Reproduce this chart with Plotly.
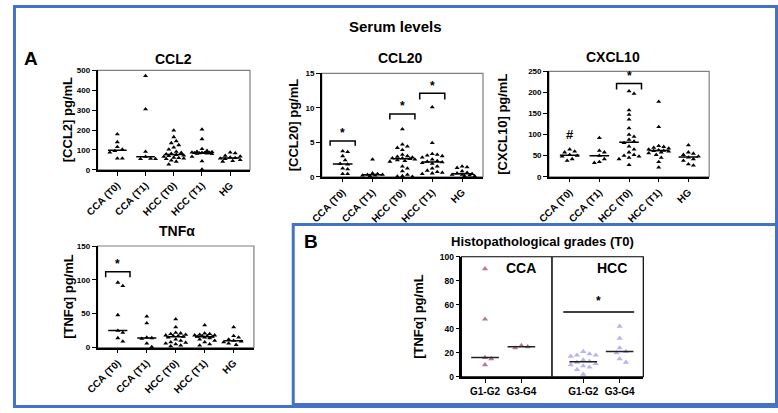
import numpy as np
import plotly.graph_objects as go

W, H = 778, 413

# ---------------- data ----------------
groups = ["CCA (T0)", "CCA (T1)", "HCC (T0)", "HCC (T1)", "HG"]

ccl2_cca_t0 = [180, 140, 115, 103, 95, 88, 58, 58]
ccl2_cca_t1 = [472, 305, 92, 66, 57, 55, 55]
ccl2_hcc_t0 = [198, 165, 145, 135, 125, 113, 103, 92, 86, 82, 79, 76, 73, 70, 66, 62, 60, 58, 55, 48, 42, 28]
ccl2_hcc_t1 = [203, 155, 105, 96, 92, 90, 88, 87, 86, 85, 85, 84, 83, 82, 80, 66, 44, 2]
ccl2_hg = [88, 84, 72, 68, 63, 60, 58, 55, 50, 45, 42]

ccl20_cca_t0 = [3.7, 3.6, 3.0, 2.4, 1.9, 1.8, 1.2, 1.1, 0.4, 0.4]
ccl20_cca_t1 = [2.5, 0.5, 0.4, 0.3, 0.3, 0.2, 0.2, 0.1]
ccl20_hcc_t0 = [6.9, 4.7, 4.4, 4.2, 3.9, 3.2, 3.0, 2.9, 2.8, 2.7, 2.7, 2.6, 2.5, 2.4, 2.3, 2.2, 1.5, 1.2, 0.8, 0.3, 0.1, 0.05, 0.02]
ccl20_hcc_t1 = [10.1, 4.9, 3.3, 3.2, 3.1, 3.0, 2.8, 2.5, 2.3, 2.2, 2.1, 2.0, 1.9, 1.5, 1.2, 0.9, 0.7, 0.6, 0.5, 0.4]
ccl20_hg = [1.5, 1.4, 1.3, 0.8, 0.6, 0.5, 0.4, 0.3, 0.3, 0.2, 0.1, 0.1]

cxcl10_cca_t0 = [65, 60, 58, 52, 50, 48, 42, 38]
cxcl10_cca_t1 = [92, 62, 58, 50, 42, 35, 33]
cxcl10_hcc_t0 = [203, 197, 158, 147, 136, 115, 100, 95, 88, 84, 80, 72, 65, 58, 52, 50, 48, 45, 42, 28]
cxcl10_hcc_t1 = [178, 118, 73, 71, 69, 67, 65, 63, 62, 61, 60, 58, 56, 52, 45, 35, 22]
cxcl10_hg = [75, 58, 55, 52, 48, 46, 42, 38, 30, 27]

tnf_cca_t0 = [96, 91, 48, 25, 22, 14, 9]
tnf_cca_t1 = [46, 36, 15, 14, 13, 6, 1]
tnf_hcc_t0 = [42, 30, 22, 21, 20, 19, 18, 17, 17, 16, 15, 12, 10, 8, 7, 6, 5, 3, 2]
tnf_hcc_t1 = [33, 21, 20, 19, 18, 18, 17, 17, 16, 16, 15, 14, 12, 10, 8, 5, 3]
tnf_hg = [30, 17, 15, 12, 10, 9, 8, 6, 4]

grade_labels = ["G1-G2", "G3-G4"]
grade_cca_g12 = [90, 48, 16, 15, 10]
grade_cca_g34 = [26, 25, 24]
grade_hcc_g12 = [21, 19, 18, 18, 17, 14, 13, 12, 11, 10, 9, 8, 6, 2]
grade_hcc_g34 = [42, 32, 24, 21, 20, 15, 12]

# significance marks: (group index, bracket top, leg bottom, star height)
ccl20_sig = [(0, 5.2, 4.5, 6.4), (2, 9.1, 8.3, 10.3), (3, 12.1, 11.2, 13.2)]
cxcl10_sig = [(2, 221, 207, 239)]
tnf_sig = [(0, 112, 104, 123)]

# ---------------- helpers ----------------
BLUE = "#4472C4"
FONT = "Liberation Sans, Arial, sans-serif"


def px(xp):
    return xp / W


def py(yp):
    return 1 - yp / H


def swarm(vals, ppx, ppy, d=4.2, lim=0.42):
    vals = np.asarray(vals, float)
    order = np.argsort(-vals)
    placed = []
    off = np.zeros(len(vals))
    step = d * 0.55
    cand = [0.0]
    for k in range(1, 30):
        cand += [k * step, -k * step]
    cand = [c for c in cand if abs(c) / ppx <= lim]
    for i in order:
        yv = vals[i] * ppy
        best, bestd = cand[0], -1
        for c in cand:
            md = min([np.hypot(c - a, yv - b) for a, b in placed], default=1e9)
            if md >= d:
                best = c
                break
            if md > bestd:
                best, bestd = c, md
        placed.append((best, yv))
        off[i] = best / ppx
    return off


fig = go.Figure()
annotations = []
shapes = []
layout_axes = {}


def add_axes(n, box, xr, yr, dtick, tickvals, ticktext, tickangle, tfsize, boxcolor):
    x0, y0, x1, y1 = box
    xa = "xaxis" if n == 1 else f"xaxis{n}"
    ya = "yaxis" if n == 1 else f"yaxis{n}"
    xs = "x" if n == 1 else f"x{n}"
    ys = "y" if n == 1 else f"y{n}"
    layout_axes[xa] = dict(domain=[px(x0), px(x1)], anchor=ys, range=xr, showgrid=False, zeroline=False,
                           showline=True, linecolor="black", linewidth=1.5, ticks="outside", ticklen=4,
                           tickwidth=1.3, tickcolor="black", tickvals=tickvals, ticktext=ticktext,
                           tickangle=tickangle,
                           tickfont=dict(family=FONT, size=tfsize, color="black", weight="bold"))
    layout_axes[ya] = dict(domain=[py(y1), py(y0)], anchor=xs, range=yr, showgrid=False, zeroline=False,
                           showline=True, linecolor="black", linewidth=1.5, ticks="outside", ticklen=4,
                           tickwidth=1.3, tickcolor="black", dtick=dtick, tick0=0,
                           tickfont=dict(family=FONT, size=8, color="black", weight="bold"))
    shapes.append(dict(type="rect", xref=f"{xs} domain", yref=f"{ys} domain", x0=0, x1=1, y0=0, y1=1,
                       line=dict(color=boxcolor, width=1.2), layer="below"))
    return xs, ys


def add_group(xs, ys, xc, vals, ppx, ppy, color, mcolor="black", half=0.33, msize=4.4):
    off = swarm(vals, ppx, ppy, d=msize * 1.05)
    fig.add_trace(go.Scatter(x=xc + off, y=vals, mode="markers", xaxis=xs, yaxis=ys, cliponaxis=False,
                             marker=dict(symbol="triangle-up", size=msize, color=color, line=dict(width=0)),
                             showlegend=False, hoverinfo="y"))
    med = float(np.median(vals))
    fig.add_trace(go.Scatter(x=[xc - half, xc + half], y=[med, med], mode="lines", xaxis=xs, yaxis=ys,
                             line=dict(color=mcolor, width=1.5), showlegend=False, hoverinfo="skip"))


def text(x, y, t, size, angle=0, weight="bold", anchor="center"):
    annotations.append(dict(x=px(x), y=py(y), xref="paper", yref="paper", text=t, showarrow=False,
                            textangle=angle, xanchor=anchor, yanchor="middle",
                            font=dict(family=FONT, size=size, color="black", weight=weight)))


# ---------------- panel A ----------------
A_panels = [
    ("CCL2", "[CCL2] pg/mL", [ccl2_cca_t0, ccl2_cca_t1, ccl2_hcc_t0, ccl2_hcc_t1, ccl2_hg],
     (86, 67, 241, 169), 500, 100, (163, 55), 55, []),
    ("CCL20", "[CCL20] pg/mL", [ccl20_cca_t0, ccl20_cca_t1, ccl20_hcc_t0, ccl20_hcc_t1, ccl20_hg],
     (314, 70, 478, 176), 15, 5, (394, 54), 285, ccl20_sig),
    ("CXCL10", "[CXCL10] pg/mL", [cxcl10_cca_t0, cxcl10_cca_t1, cxcl10_hcc_t0, cxcl10_hcc_t1, cxcl10_hg],
     (545, 68, 708, 176), 250, 50, (610, 53), 497, cxcl10_sig),
    ("TNFα", "[TNFα] pg/mL", [tnf_cca_t0, tnf_cca_t1, tnf_hcc_t0, tnf_hcc_t1, tnf_hg],
     (86, 247, 245, 351), 150, 50, (167, 232), 57, tnf_sig),
]

for n, (title, ylab, series, box, ymax, dt, tpos, ylx, sig) in enumerate(A_panels, start=1):
    xr = [-0.7, 4.7]
    xs, ys = add_axes(n, box, xr, [0, ymax], dt, list(range(5)), groups, -45, 10, "#7f7f7f")
    ppx = (box[2] - box[0]) / (xr[1] - xr[0])
    ppy = (box[3] - box[1]) / ymax
    for gi, vals in enumerate(series):
        add_group(xs, ys, gi, vals, ppx, ppy, "black")
    for gi, top, leg, star in sig:
        fig.add_trace(go.Scatter(x=[gi - 0.42, gi - 0.42, gi + 0.42, gi + 0.42], y=[leg, top, top, leg],
                                 mode="lines", xaxis=xs, yaxis=ys, line=dict(color="black", width=1.5),
                                 showlegend=False, hoverinfo="skip", cliponaxis=False))
        annotations.append(dict(x=gi, y=star, xref=xs, yref=ys, text="*", showarrow=False,
                                font=dict(family=FONT, size=12, color="black", weight="bold")))
    text(tpos[0], tpos[1], title, 14)
    text(ylx, (box[1] + box[3]) / 2, ylab, 13, angle=-90)

# "#" mark on CXCL10 CCA (T0)
annotations.append(dict(x=0, y=100, xref="x3", yref="y3", text="#", showarrow=False,
                        font=dict(family=FONT, size=13, color="black", weight="bold")))

# ---------------- panel B ----------------
bbox = (456, 258, 641, 381)
bxr = [-0.65, 4.35]
cca_pos = [0, 1]
hcc_pos = [2.7, 3.7]
xs, ys = add_axes(5, bbox, bxr, [0, 100], 20, cca_pos + hcc_pos, grade_labels + grade_labels, 0, 10, "black")
layout_axes["yaxis5"]["tickfont"]["size"] = 8.5
bppx = (bbox[2] - bbox[0]) / (bxr[1] - bxr[0])
bppy = (bbox[3] - bbox[1]) / 100
CCA_C = "#B27B90"
HCC_C = "#B7B5EC"
for xc, vals in zip(cca_pos, [grade_cca_g12, grade_cca_g34]):
    add_group(xs, ys, xc, vals, bppx, bppy, CCA_C, mcolor="#222222", half=0.38, msize=5.5)
for xc, vals in zip(hcc_pos, [grade_hcc_g12, grade_hcc_g34]):
    add_group(xs, ys, xc, vals, bppx, bppy, HCC_C, mcolor="#222222", half=0.38, msize=5.5)
# divider and significance line
shapes.append(dict(type="line", xref="x5", yref="y5", x0=1.84, x1=1.84, y0=0, y1=100,
                   line=dict(color="black", width=1.5)))
fig.add_trace(go.Scatter(x=[2.15, 4.1], y=[54, 54], mode="lines", xaxis=xs, yaxis=ys,
                         line=dict(color="black", width=1.6), showlegend=False, hoverinfo="skip"))
annotations.append(dict(x=3.12, y=63, xref="x5", yref="y5", text="*", showarrow=False,
                        font=dict(family=FONT, size=12, color="black", weight="bold")))
text(517, 270, "CCA", 14)
text(609, 270, "HCC", 14)
text(539, 242, "Histopathological grades (T0)", 13)
text(413, (bbox[1] + bbox[3]) / 2, "[TNFα] pg/mL", 13, angle=-90)
text(303, 242, "B", 19)

# ---------------- titles & borders ----------------
text(389, 22, "Serum levels", 15)
text(18, 55, "A", 19)

shapes.append(dict(type="rect", xref="paper", yref="paper", x0=px(1.5), x1=px(776.5), y0=py(411.5), y1=py(1.5),
                   line=dict(color=BLUE, width=3)))
shapes.append(dict(type="rect", xref="paper", yref="paper", x0=px(285), x1=px(776.5), y0=py(409.5), y1=py(225),
                   line=dict(color=BLUE, width=3)))

fig.update_layout(width=W, height=H, margin=dict(l=0, r=0, t=0, b=0), autosize=False,
                  paper_bgcolor="white", plot_bgcolor="rgba(0,0,0,0)",
                  annotations=annotations, shapes=shapes, **layout_axes)

fig.write_html("out.html", config={"displayModeBar": False},
               post_script="document.body.style.margin='0px';document.body.style.padding='0px';")
